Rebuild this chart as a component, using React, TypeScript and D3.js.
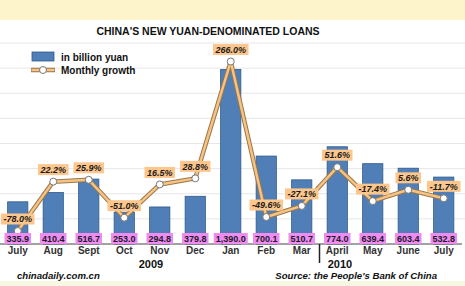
import React from "react";
import * as d3 from "d3";

const months = ["July", "Aug", "Sept", "Oct", "Nov", "Dec", "Jan", "Feb", "Mar", "April", "May", "June", "July "];
const loans = [335.9, 410.4, 516.7, 253.0, 294.8, 379.8, 1390.0, 700.1, 510.7, 774.0, 639.4, 603.4, 532.8];
const growth = [-78.0, 22.2, 25.9, -51.0, 16.5, 28.8, 266.0, -49.6, -27.1, 51.6, -17.4, 5.6, -11.7];
const gridTicks = [200, 400, 600, 800, 1000, 1200, 1400, 1600];
const years = ["2009", "2010"];

const W = 465;
const H = 286;

const charW: Record<string, number> = { ".": 0.278, ",": 0.278, "%": 0.889, "-": 0.333 };
const textWidth = (s: string, size: number) =>
  s.split("").reduce((a, c) => a + (charW[c] ?? 0.556), 0) * size;

export default function App() {
  const x = d3.scaleBand<string>().domain(months).range([0, 461.5]).paddingInner(0.43).paddingOuter(0.215);
  const yBar = d3.scaleLinear().domain([0, 1600]).range([244, 43]);
  const yPct = d3.scaleLinear().domain([-78, 266]).range([231, 61.5]);
  const cx = (i: number) => (x(months[i]) as number) + x.bandwidth() / 2;
  const fmtVal = d3.format(",.1f");
  const fmtPct = (v: number) => v.toFixed(1) + "%";

  const line = d3
    .line<number>()
    .x((_, i) => cx(i))
    .y((d) => yPct(d));

  const divX = (cx(8) + cx(9)) / 2;
  const yearX = [151, 340];
  const font = "Arial, 'Liberation Sans', Helvetica, sans-serif";

  return (
    <svg width={W} height={H} style={{ position: "absolute", left: 0, top: 0, fontFamily: font }}>
      <rect x={0} y={0} width={W} height={H} fill="#ffffff" />
      <rect x={0} y={0} width={W} height={20} fill="#fdf4cc" />
      <rect x={0} y={281} width={W} height={5} fill="#f7f8e2" />
      {gridTicks.map((t) => (
        <line key={t} x1={0} x2={W} y1={yBar(t)} y2={yBar(t)} stroke="#e6e6e6" strokeWidth={1} />
      ))}
      <text x={208} y={35} textAnchor="middle" fontSize={10.5} fontWeight="bold" fill="#111">
        CHINA'S NEW YUAN-DENOMINATED LOANS
      </text>
      {/* legend */}
      <rect x={32} y={52} width={22} height={9} fill="#4f7fb6" stroke="#2f5a8c" strokeWidth={0.8} />
      <text x={61} y={61} fontSize={10} fontWeight="bold" fill="#111">in billion yuan</text>
      <line x1={31} x2={55} y1={70} y2={70} stroke="#9a774c" strokeWidth={4.5} />
      <line x1={31.5} x2={54.5} y1={70} y2={70} stroke="#f7c383" strokeWidth={2.5} />
      <circle cx={43} cy={70} r={3.5} fill="#fff" stroke="#777" strokeWidth={1} />
      <text x={61} y={74} fontSize={10} fontWeight="bold" fill="#111">Monthly growth</text>

      {/* bars */}
      {loans.map((v, i) => (
        <rect
          key={i}
          x={x(months[i])}
          y={yBar(v)}
          width={x.bandwidth()}
          height={yBar(0) - yBar(v)}
          fill="#4f7fb6"
          stroke="#2f5a8c"
          strokeWidth={0.8}
        />
      ))}
      <line x1={0} x2={462} y1={244} y2={244} stroke="#444" strokeWidth={1} />

      {/* growth line */}
      <path d={line(growth) || ""} fill="none" stroke="#9a774c" strokeWidth={4.5} strokeLinejoin="round" />
      <path d={line(growth) || ""} fill="none" stroke="#f7c383" strokeWidth={2.5} strokeLinejoin="round" />
      {growth.map((g, i) => (
        <circle key={i} cx={cx(i)} cy={yPct(g)} r={3.5} fill="#fff" stroke="#777" strokeWidth={1} />
      ))}

      {/* value labels */}
      {loans.map((v, i) => {
        const s = fmtVal(v);
        const w = textWidth(s, 9) + 4;
        return (
          <g key={i}>
            <rect x={cx(i) - w / 2} y={233} width={w} height={11} fill="#f08cf0" />
            <text x={cx(i)} y={242} textAnchor="middle" fontSize={9} fontWeight="bold" fill="#1a1a2a">
              {s}
            </text>
          </g>
        );
      })}

      {/* growth labels */}
      {growth.map((g, i) => {
        const s = fmtPct(g);
        const w = textWidth(s, 9) + 5;
        const yc = yPct(g) - 12;
        return (
          <g key={i}>
            <rect x={cx(i) - w / 2} y={yc - 5.5} width={w} height={11} fill="#fcc68c" />
            <text x={cx(i)} y={yc + 3.3} textAnchor="middle" fontSize={9} fontWeight="bold" fontStyle="italic" fill="#1a1a1a">
              {s}
            </text>
          </g>
        );
      })}

      {/* month labels */}
      {months.map((m, i) => (
        <text key={i} x={cx(i)} y={254} textAnchor="middle" fontSize={10} fontWeight="bold" fill="#333">
          {m.trim()}
        </text>
      ))}
      <line x1={divX} x2={divX} y1={244} y2={263} stroke="#222" strokeWidth={1.5} />
      {years.map((yr, i) => (
        <text key={yr} x={yearX[i]} y={267.5} textAnchor="middle" fontSize={11} fontWeight="bold" fill="#111">
          {yr}
        </text>
      ))}
      <text x={17} y={279} fontSize={9.6} fontWeight="bold" fontStyle="italic" fill="#111">
        chinadaily.com.cn
      </text>
      <text x={437} y={279} textAnchor="end" fontSize={9.6} fontWeight="bold" fontStyle="italic" fill="#111">
        Source: the People's Bank of China
      </text>
    </svg>
  );
}
